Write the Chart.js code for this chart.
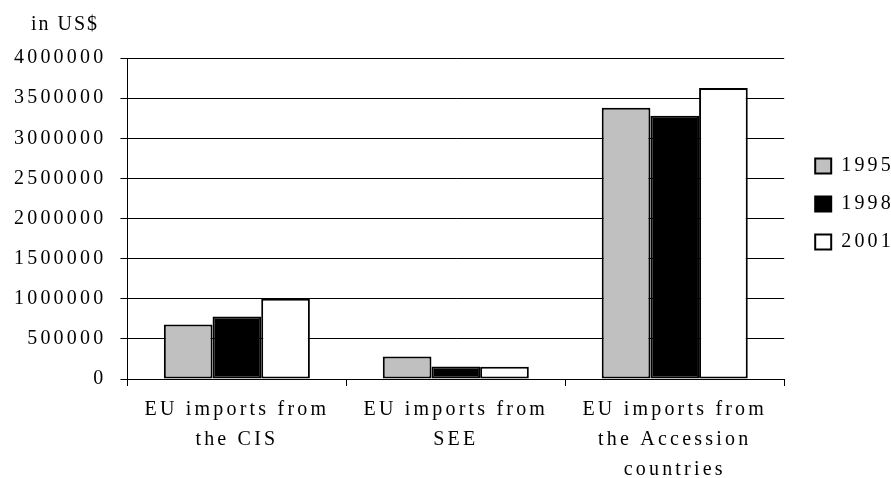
<!DOCTYPE html>
<html>
<head>
<meta charset="utf-8">
<title>EU imports</title>
<script src="https://cdn.jsdelivr.net/npm/chart.js@4.4.1/dist/chart.umd.min.js"></script>
<style>
    html, body { margin: 0; padding: 0; background: #ffffff; }
    #wrap { width: 891px; height: 478px; }
</style>
</head>
<body>
<div id="wrap"><canvas id="barChart" width="891" height="478"></canvas></div>
<script>
// Chart data (in US$)
const categories = [
    ["EU imports from", "the CIS"],
    ["EU imports from", "SEE"],
    ["EU imports from", "the Accession", "countries"]
];
const years = ["1995", "1998", "2001"];
const values1995 = [680000, 280000, 3380000];
const values1998 = [780000, 155000, 3280000];
const values2001 = [1000000, 152000, 3625000];
const yTickMin = 0;
const yTickMax = 4000000;
const yTickStep = 500000;
const unitLabel = "in US$";

document.addEventListener("DOMContentLoaded", function () {
    const ctx = document.getElementById("barChart").getContext("2d");
    const serif = "'Liberation Serif', 'Times New Roman', serif";
    const spacing = "3.2px";

    // the original uses widely spaced letters
    const spacingPlugin = {
        id: "spacing",
        beforeUpdate(chart) { chart.ctx.letterSpacing = spacing; },
        beforeLayout(chart) { chart.ctx.letterSpacing = spacing; },
        beforeDraw(chart) { chart.ctx.letterSpacing = spacing; },
        // nudge the legend away from the plot and up, like the original
        afterLayout(chart) {
            const lg = chart.legend;
            if (!lg) return;
            lg.left += 13;
            lg.right += 13;
            lg.top -= 72;
            lg.bottom -= 72;
        },
        // unit label above the value axis
        afterDraw(chart) {
            const c = chart.ctx;
            const yScale = chart.scales.y;
            c.save();
            c.letterSpacing = "2px";
            c.font = "20px " + serif;
            c.fillStyle = "#000";
            c.textAlign = "left";
            c.textBaseline = "middle";
            c.fillText(unitLabel, yScale.left + 31, 25);
            c.restore();
        }
    };

    const barChart = new Chart(ctx, {
        type: "bar",
        data: {
            labels: categories,
            datasets: [
                { label: years[0], data: values1995, backgroundColor: "#c0c0c0" },
                { label: years[1], data: values1998, backgroundColor: "#000000" },
                { label: years[2], data: values2001, backgroundColor: "#ffffff" }
            ]
        },
        options: {
            responsive: false,
            animation: false,
            datasets: {
                bar: {
                    borderColor: "#000000",
                    borderWidth: 2,
                    borderSkipped: false,
                    categoryPercentage: 0.667,
                    barPercentage: 1.0
                }
            },
            layout: {
                padding: { top: 58, left: 0, right: 0, bottom: -16 }
            },
            plugins: {
                title: { display: false },
                tooltip: { enabled: false },
                legend: {
                    position: "right",
                    labels: {
                        boxWidth: 16,
                        boxHeight: 15,
                        padding: 18,
                        color: "#000",
                        font: { family: serif, size: 20 }
                    }
                }
            },
            scales: {
                x: {
                    grid: {
                        display: true,
                        drawOnChartArea: false,
                        drawTicks: true,
                        tickLength: 7,
                        color: "#000"
                    },
                    border: { display: true, color: "#000", width: 1 },
                    ticks: {
                        color: "#000",
                        padding: 9,
                        maxRotation: 0,
                        autoSkip: false,
                        font: { family: serif, size: 20, lineHeight: 1.5 }
                    }
                },
                y: {
                    min: yTickMin,
                    max: yTickMax,
                    grid: {
                        color: "#000",
                        lineWidth: 1,
                        drawTicks: true,
                        tickLength: 7
                    },
                    border: { display: true, color: "#000", width: 1 },
                    ticks: {
                        stepSize: yTickStep,
                        color: "#000",
                        padding: 14,
                        font: { family: serif, size: 20 },
                        callback: value => String(value)
                    }
                }
            }
        },
        plugins: [spacingPlugin]
    });
});
</script>
</body>
</html>
